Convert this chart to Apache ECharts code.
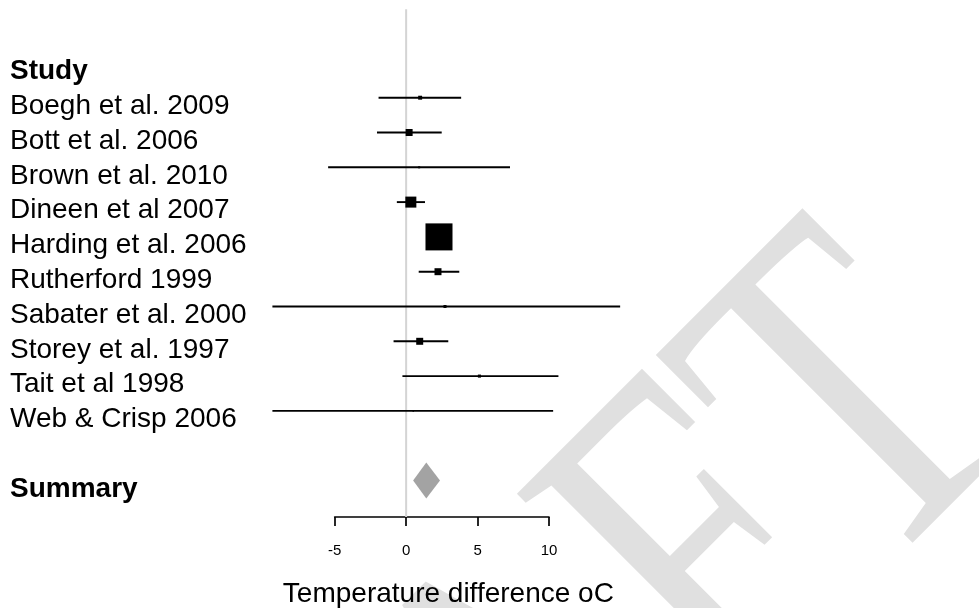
<!DOCTYPE html>
<html>
<head>
<meta charset="utf-8">
<script src="https://cdn.jsdelivr.net/npm/echarts@6/dist/echarts.min.js"></script>
<style>
  html, body { margin: 0; padding: 0; background: #ffffff; }
  #chart { width: 979px; height: 608px; }
</style>
</head>
<body>
<div id="chart"></div>
<script>
// ---- Data ----
const studies = [
  "Boegh et al. 2009",
  "Bott et al. 2006",
  "Brown et al. 2010",
  "Dineen et al 2007",
  "Harding et al. 2006",
  "Rutherford 1999",
  "Sabater et al. 2000",
  "Storey et al. 1997",
  "Tait et al 1998",
  "Web & Crisp 2006"
];
const estimates = [0.98, 0.21, 0.91, 0.33, 2.30, 2.23, 2.72, 0.95, 5.13, 0.50];
const lowerCI   = [-1.93, -2.04, -5.46, -0.65, 1.60, 0.88, -9.36, -0.88, -0.26, -9.36];
const upperCI   = [3.85, 2.49, 7.27, 1.32, 3.00, 3.72, 14.98, 2.95, 10.66, 10.29];
const weights   = [1.5, 4.7, 0.4, 11.7, 70.4, 4.7, 0.9, 4.7, 0.9, 0.1]; // % weight
const summaryEstimate = 1.41;
const summaryLower = 0.49;
const summaryUpper = 2.37;
const xTicks = [-5, 0, 5, 10];
const headerLabel = "Study";
const summaryLabel = "Summary";
const xTitle = "Temperature difference oC";
const watermark = "DRAFT";

// ---- Build category rows: blank, header, studies, blank, summary ----
const rows = [""].concat([headerLabel], studies, [""], [summaryLabel]);
const firstStudyRow = 2;
const summaryRow = rows.length - 1;
const FONT = '"Liberation Sans", Arial, sans-serif';
const LABEL_LH = 17;
const yData = rows.map(function (r) {
  if (r === headerLabel || r === summaryLabel) {
    return {
      value: r,
      textStyle: {
        fontWeight: 'bold', align: 'left', verticalAlign: 'top', lineHeight: LABEL_LH,
        fontSize: 28, fontFamily: FONT, color: '#000'
      }
    };
  }
  return r;
});

const studyData = studies.map(function (s, i) {
  return [lowerCI[i], upperCI[i], estimates[i], weights[i], firstStudyRow + i];
});

const AXIS_OFFSET = 19;

const chart = echarts.init(document.getElementById('chart'), null, { renderer: 'canvas' });

const option = {
  backgroundColor: '#ffffff',
  animation: false,
  grid: { left: 334.7, right: 430, top: 10.7, bottom: 110.1, containLabel: false, outerBoundsMode: 'none' },
  xAxis: {
    type: 'value',
    min: xTicks[0],
    max: xTicks[xTicks.length - 1],
    interval: 5,
    offset: AXIS_OFFSET,
    axisLine: { show: true, lineStyle: { color: '#000', width: 1.7 } },
    axisTick: { show: true, length: 9, inside: false, lineStyle: { color: '#000', width: 1.7 } },
    axisLabel: { show: true, fontSize: 15, color: '#000', fontFamily: FONT, margin: 26 },
    splitLine: { show: false },
    name: xTitle,
    nameLocation: 'middle',
    nameGap: 63,
    nameTextStyle: { fontSize: 28, color: '#000', fontFamily: FONT, padding: [0, 0, 0, 13] }
  },
  yAxis: {
    type: 'category',
    inverse: true,
    data: yData,
    axisLine: { show: false },
    axisTick: { show: false },
    splitLine: { show: false },
    axisLabel: {
      show: true,
      interval: 0,
      align: 'left',
      verticalAlign: 'top',
      lineHeight: LABEL_LH,
      margin: 324.7,
      fontSize: 28,
      color: '#000',
      fontFamily: FONT,
      hideOverlap: false
    }
  },
  graphic: [
    {
      type: 'text',
      x: 522.5,
      y: 754.5,
      rotation: Math.PI / 4,
      scaleX: 0.75,
      z: -10,
      silent: true,
      style: {
        text: watermark,
        font: '480px "Liberation Serif", "Times New Roman", serif',
        fill: '#e0e0e0',
        align: 'center',
        verticalAlign: 'middle'
      }
    }
  ],
  series: [
    {
      // zero reference line
      type: 'custom',
      z: 1,
      silent: true,
      data: [[0]],
      renderItem: function (params, api) {
        const cs = params.coordSys;
        const p = api.coord([api.value(0), 0]);
        return {
          type: 'line',
          shape: { x1: p[0], y1: cs.y - 1.5, x2: p[0], y2: cs.y + cs.height + AXIS_OFFSET },
          style: { stroke: '#d4d4d4', lineWidth: 2 }
        };
      }
    },
    {
      // study CIs and weighted squares
      type: 'custom',
      z: 3,
      clip: false,
      data: studyData,
      renderItem: function (params, api) {
        const row = api.value(4);
        const a = api.coord([api.value(0), row]);
        const b = api.coord([api.value(1), row]);
        const c = api.coord([api.value(2), row]);
        const side = Math.max(1.5, 3.22 * Math.sqrt(api.value(3)));
        return {
          type: 'group',
          children: [
            {
              type: 'line',
              shape: { x1: a[0], y1: a[1], x2: b[0], y2: b[1] },
              style: { stroke: '#000', lineWidth: 1.9 }
            },
            {
              type: 'rect',
              shape: { x: c[0] - side / 2, y: c[1] - side / 2, width: side, height: side },
              style: { fill: '#000' }
            }
          ]
        };
      }
    },
    {
      // summary diamond
      type: 'custom',
      z: 3,
      clip: false,
      data: [[summaryLower, summaryUpper, summaryEstimate, summaryRow]],
      renderItem: function (params, api) {
        const row = api.value(3);
        const l = api.coord([api.value(0), row]);
        const u = api.coord([api.value(1), row]);
        const m = api.coord([api.value(2), row]);
        const h = 18;
        return {
          type: 'polygon',
          shape: { points: [[l[0], m[1]], [m[0], m[1] - h], [u[0], m[1]], [m[0], m[1] + h]] },
          style: { fill: '#a3a3a3' }
        };
      }
    }
  ]
};

chart.setOption(option);
</script>
</body>
</html>
